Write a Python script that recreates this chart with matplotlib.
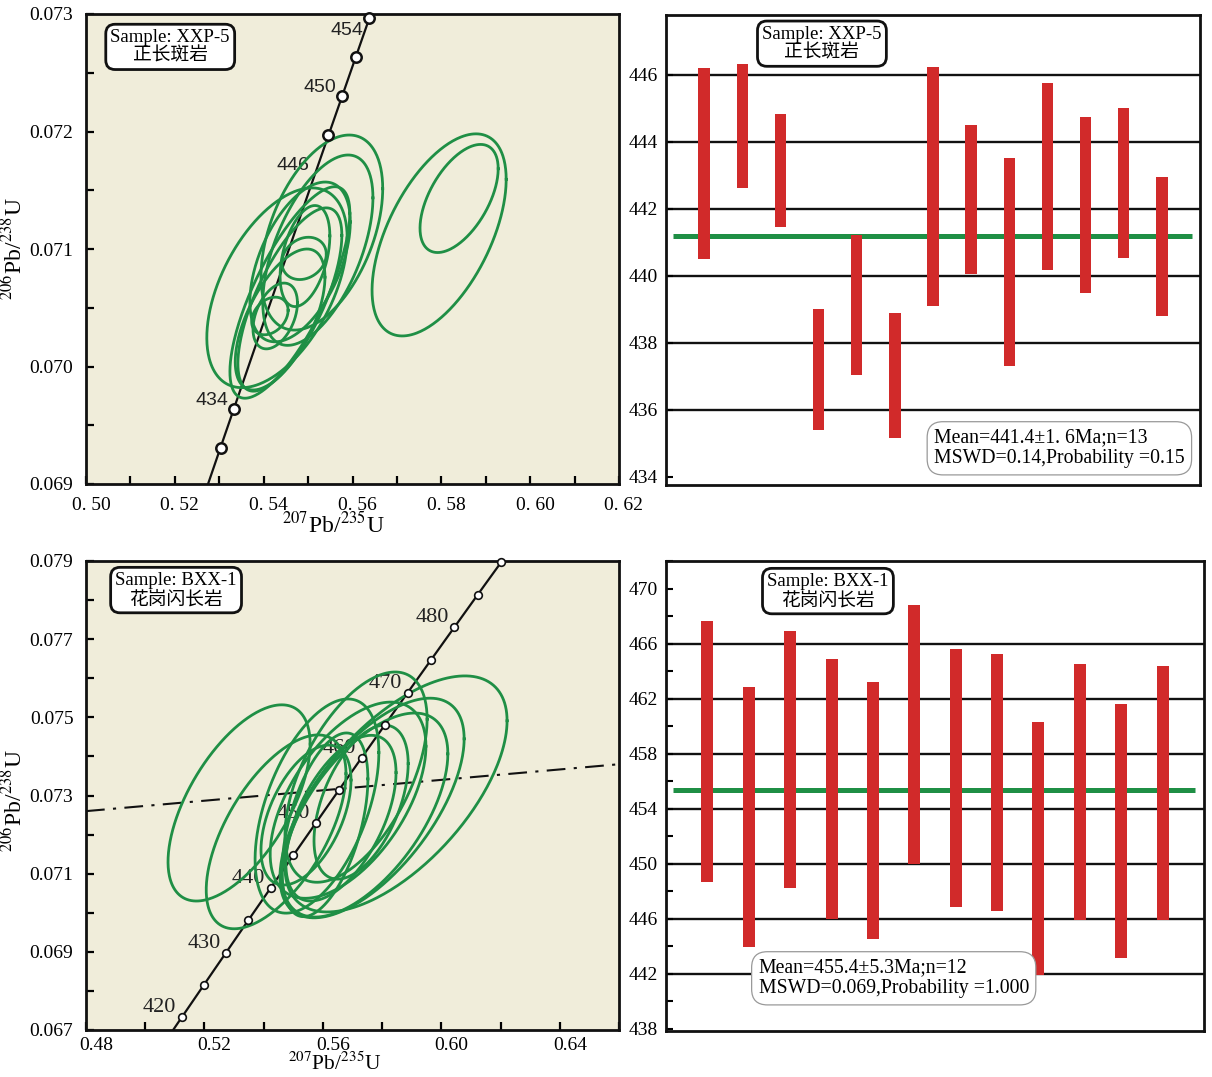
import numpy as np
import matplotlib
matplotlib.use('Agg')
import matplotlib.pyplot as plt
import matplotlib.transforms as mtransforms
from matplotlib.ticker import FixedLocator, MultipleLocator

plt.rcParams['font.family'] = ['Liberation Serif', 'Noto Sans CJK SC']
plt.rcParams['mathtext.fontset'] = 'stix'

# decay constants used for the concordia curve
L238 = 1.55125e-10
L235 = 9.8485e-10

# ---- XXP-5 concordia: ellipses (centre, half-widths, correlation)
xxp_cx = [0.5430, 0.5531, 0.5522, 0.5459, 0.5459, 0.5482, 0.5493, 0.5491, 0.5426, 0.5414, 0.5437, 0.5795, 0.5840]
xxp_cy = [0.07067, 0.07114, 0.07099, 0.07063, 0.07057, 0.07089, 0.07094, 0.07092, 0.07043, 0.07043, 0.07040, 0.07112, 0.07143]
xxp_sx = [0.0158, 0.0137, 0.0124, 0.0135, 0.0117, 0.0113, 0.0056, 0.0050, 0.0050, 0.0041, 0.0101, 0.0151, 0.0088]
xxp_sy = [0.00085, 0.00083, 0.00081, 0.00090, 0.00078, 0.00068, 0.00043, 0.00018, 0.00028, 0.00016, 0.00060, 0.00086, 0.00046]
xxp_rho = [0.5, 0.45, 0.55, 0.75, 0.7, 0.5, 0.4, 0.2, 0.4, 0.3, 0.6, 0.55, 0.55]
xxp_marks = [432, 434, 448, 450, 452, 454]
xxp_labels = [434, 446, 450, 454]

# ---- BXX-1 concordia
bxx_cx = [0.5317, 0.5442, 0.5847, 0.5766, 0.5742, 0.5712, 0.5685, 0.5580, 0.5607, 0.5729, 0.5661, 0.5543]
bxx_cy = [0.07281, 0.07207, 0.07304, 0.07268, 0.07250, 0.07347, 0.07288, 0.07273, 0.07225, 0.07283, 0.07242, 0.07250]
bxx_sx = [0.0240, 0.0236, 0.0375, 0.0311, 0.0280, 0.0240, 0.0263, 0.0209, 0.0145, 0.0159, 0.0186, 0.0152]
bxx_sy = [0.00251, 0.00248, 0.00302, 0.00281, 0.00261, 0.00269, 0.00251, 0.00274, 0.00235, 0.00197, 0.00212, 0.00179]
bxx_rho = [0.6, 0.6, 0.62, 0.63, 0.6, 0.55, 0.55, 0.5, 0.5, 0.5, 0.55, 0.5]
bxx_marks = [420, 425, 430, 435, 440, 445, 450, 455, 460, 465, 470, 475, 480, 485, 490]
bxx_labels = [420, 430, 440, 450, 460, 470, 480]
bxx_line_x = [0.48, 0.66]
bxx_line_y = [0.0726, 0.0738]

# ---- weighted mean ages
xxp_top = [446.19, 446.33, 444.83, 439.01, 441.23, 438.88, 446.24, 444.49, 443.52, 445.74, 444.74, 445.00, 442.94]
xxp_bot = [440.50, 442.62, 441.45, 435.39, 437.04, 435.15, 439.11, 440.04, 437.30, 440.16, 439.48, 440.53, 438.79]
xxp_mean = 441.2
bxx_top = [467.67, 462.83, 466.95, 464.88, 463.21, 468.82, 465.63, 465.23, 460.32, 464.50, 461.61, 464.36]
bxx_bot = [448.68, 443.94, 448.26, 446.01, 444.52, 450.00, 446.88, 446.56, 441.90, 445.94, 443.15, 445.89]
bxx_mean = 455.4

BEIGE = '#f0edda'
GREEN = '#1f8f45'
RED = '#d12a2a'
W, H = 1212, 1077

fig = plt.figure(figsize=(W / 100, H / 100), dpi=100, facecolor='white')


def pos(l, r, t, b):
    return [l / W, 1 - b / H, (r - l) / W, (b - t) / H]


def ellipse(cx, cy, sx, sy, rho):
    t = np.linspace(0, 2 * np.pi, 300)
    return cx + sx * np.cos(t), cy + sy * (rho * np.cos(t) + np.sqrt(1 - rho ** 2) * np.sin(t))


def concordia(ax, marks, labels, ms, mew, lab_font, lab_size, below=()):
    t = np.linspace(380, 520, 400) * 1e6
    ax.plot(np.exp(L235 * t) - 1, np.exp(L238 * t) - 1, color='#111111', lw=1.6, zorder=2)
    tm = np.array(marks) * 1e6
    ax.plot(np.exp(L235 * tm) - 1, np.exp(L238 * tm) - 1, 'o', ms=ms, mfc='white', mec='#111111',
            mew=mew, zorder=4, clip_on=False)
    for a in labels:
        dy, va = (-3, 'top') if a in below else (0, 'bottom')
        ax.annotate(str(a), (np.exp(L235 * a * 1e6) - 1, np.exp(L238 * a * 1e6) - 1),
                    xytext=(-4, dy), textcoords='offset points', ha='right', va=va,
                    fontsize=lab_size, family=lab_font, color='#222222', zorder=2.5)


def style_frame(ax):
    for s in ax.spines.values():
        s.set_linewidth(2.0)
        s.set_color('#111111')


def sample_box(ax, x, y, txt):
    ax.text(x, y, txt, transform=ax.transAxes, ha='center', va='center', fontsize=13.5,
            linespacing=1.12, zorder=10,
            bbox=dict(boxstyle='round,pad=0.25,rounding_size=0.5', fc='white', ec='#111111', lw=2))


def info_box(ax, x, y, txt):
    ax.text(x, y, txt, transform=ax.transAxes, ha='left', va='center', fontsize=14.2,
            linespacing=1.1, zorder=10,
            bbox=dict(boxstyle='round,pad=0.35,rounding_size=0.8', fc='white', ec='#999999', lw=0.9))


# ================= top left: XXP-5 concordia
ax = fig.add_axes(pos(86, 619, 14, 484))
ax.set_facecolor(BEIGE)
for i in range(len(xxp_cx)):
    ex, ey = ellipse(xxp_cx[i], xxp_cy[i], xxp_sx[i], xxp_sy[i], xxp_rho[i])
    ax.plot(ex, ey, color=GREEN, lw=2.0, zorder=3)
concordia(ax, xxp_marks, xxp_labels, 7.5, 1.8, 'Liberation Sans', 14, below=(454,))
ax.set_xlim(0.50, 0.62)
ax.set_ylim(0.069, 0.073)
ax.xaxis.set_major_locator(FixedLocator([0.50, 0.52, 0.54, 0.56, 0.58, 0.60, 0.62]))
ax.set_xticklabels(['0. 50', '0. 52', '0. 54', '0. 56', '0. 58', '0. 60', '0. 62'])
ax.xaxis.set_minor_locator(MultipleLocator(0.01))
ax.yaxis.set_major_locator(FixedLocator([0.069, 0.070, 0.071, 0.072, 0.073]))
ax.set_yticklabels(['0.069', '0.070', '0.071', '0.072', '0.073'])
ax.yaxis.set_minor_locator(MultipleLocator(0.0005))
ax.tick_params(which='both', direction='in', length=6, width=1.6, labelsize=14, pad=9)
off = mtransforms.ScaledTranslation(0.05, 0, fig.dpi_scale_trans)
for lab in ax.get_xticklabels():
    lab.set_transform(lab.get_transform() + off)
ax.set_xlabel(r'$^{207}$Pb/$^{235}$U', fontsize=17)
ax.set_ylabel(r'$^{206}$Pb/$^{238}$U', fontsize=17)
ax.xaxis.set_label_coords(0.465, -0.058)
ax.yaxis.set_label_coords(-0.11, 0.5)
style_frame(ax)
sample_box(ax, 0.158, 0.93, 'Sample: XXP-5\n正长斑岩')

# ================= bottom left: BXX-1 concordia
ax = fig.add_axes(pos(86, 619, 561, 1030))
ax.set_facecolor(BEIGE)
ax.plot(bxx_line_x, bxx_line_y, color='#111111', lw=1.5, ls=(0, (9, 4, 1.5, 4)), zorder=2)
for i in range(len(bxx_cx)):
    ex, ey = ellipse(bxx_cx[i], bxx_cy[i], bxx_sx[i], bxx_sy[i], bxx_rho[i])
    ax.plot(ex, ey, color=GREEN, lw=2.0, zorder=3)
concordia(ax, bxx_marks, bxx_labels, 5.5, 1.2, 'Liberation Serif', 16)
ax.set_xlim(0.48, 0.66)
ax.set_ylim(0.067, 0.079)
ax.xaxis.set_major_locator(FixedLocator([0.48, 0.52, 0.56, 0.60, 0.64]))
ax.set_xticklabels(['0.48', '0.52', '0.56', '0.60', '0.64'])
ax.xaxis.set_minor_locator(MultipleLocator(0.02))
ax.yaxis.set_major_locator(FixedLocator([0.067, 0.069, 0.071, 0.073, 0.075, 0.077, 0.079]))
ax.set_yticklabels(['0.067', '0.069', '0.071', '0.073', '0.075', '0.077', '0.079'])
ax.yaxis.set_minor_locator(MultipleLocator(0.001))
ax.tick_params(which='both', direction='in', length=6, width=1.6, labelsize=14, pad=9)
ax.tick_params(axis='x', pad=5)
off = mtransforms.ScaledTranslation(0.10, 0, fig.dpi_scale_trans)
for lab in ax.get_xticklabels():
    lab.set_transform(lab.get_transform() + off)
ax.set_xlabel(r'$^{207}$Pb/$^{235}$U', fontsize=15.5)
ax.set_ylabel(r'$^{206}$Pb/$^{238}$U', fontsize=17)
ax.xaxis.set_label_coords(0.467, -0.049)
ax.yaxis.set_label_coords(-0.11, 0.49)
style_frame(ax)
sample_box(ax, 0.169, 0.938, 'Sample: BXX-1\n花岗闪长岩')

# ================= top right: XXP-5 weighted mean
ax = fig.add_axes(pos(666, 1200, 14.5, 485))
ax.set_facecolor('white')
n = len(xxp_top)
xs = np.arange(1, n + 1)
ax.hlines([436, 438, 440, 442, 444, 446], 0, n + 1, color='#111111', lw=1.7, zorder=1)
ax.plot([0.19, 13.8], [xxp_mean, xxp_mean], color=GREEN, lw=3.6, solid_capstyle='butt', zorder=2)
ax.bar(xs, np.array(xxp_top) - np.array(xxp_bot), bottom=xxp_bot, width=0.3, color=RED, zorder=3)
ax.set_xlim(0, n + 1)
ax.set_ylim(433.75, 447.8)
ax.yaxis.set_major_locator(FixedLocator([434, 436, 438, 440, 442, 444, 446]))
ax.set_xticks([])
ax.tick_params(axis='y', direction='in', length=5, width=1.5, labelsize=14, pad=6)
style_frame(ax)
sample_box(ax, 0.292, 0.938, 'Sample: XXP-5\n正长斑岩')
info_box(ax, 0.502, 0.078, 'Mean=441.4±1. 6Ma;n=13\nMSWD=0.14,Probability =0.15')

# ================= bottom right: BXX-1 weighted mean
ax = fig.add_axes(pos(666, 1204, 560.5, 1031))
ax.set_facecolor('white')
n = len(bxx_top)
xs = np.arange(1, n + 1)
ax.hlines([442, 446, 450, 454, 458, 462, 466], 0, n + 1, color='#111111', lw=1.7, zorder=1)
ax.plot([0.16, 12.79], [bxx_mean, bxx_mean], color=GREEN, lw=3.6, solid_capstyle='butt', zorder=2)
ax.bar(xs, np.array(bxx_top) - np.array(bxx_bot), bottom=bxx_bot, width=0.29, color=RED, zorder=3)
ax.set_xlim(0, n + 1)
ax.set_ylim(437.85, 472.05)
ax.yaxis.set_major_locator(FixedLocator([438, 442, 446, 450, 454, 458, 462, 466, 470]))
ax.yaxis.set_minor_locator(MultipleLocator(2))
ax.set_xticks([])
ax.tick_params(axis='y', which='both', direction='in', length=5, width=1.5, labelsize=14, pad=6)
style_frame(ax)
sample_box(ax, 0.301, 0.935, 'Sample: BXX-1\n花岗闪长岩')
info_box(ax, 0.172, 0.112, 'Mean=455.4±5.3Ma;n=12\nMSWD=0.069,Probability =1.000')

fig.savefig('out.png', dpi=100, facecolor='white')
